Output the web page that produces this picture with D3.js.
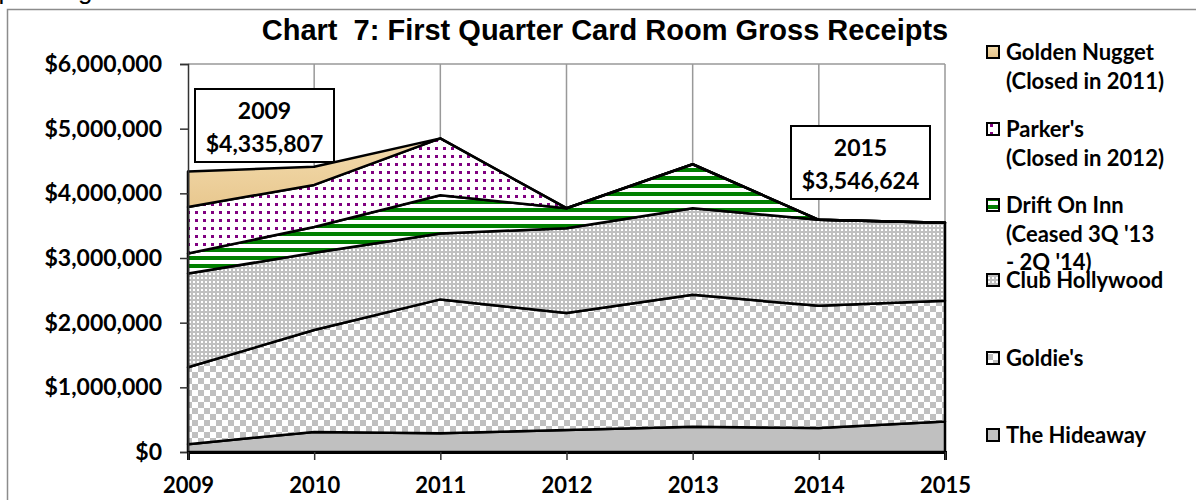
<!DOCTYPE html>
<html>
<head>
<meta charset="utf-8">
<script src="https://cdn.jsdelivr.net/npm/d3@7"></script>
<style>
  body { margin: 0; background: #fff; }
  svg { display: block; }
  .lbl { font-family: Lato, "Open Sans", sans-serif; font-weight: bold; fill: #000; }
</style>
</head>
<body>
<svg id="chart" width="1196" height="500"></svg>
<script>
// first quarter gross receipts per card room
var years = [2009, 2010, 2011, 2012, 2013, 2014, 2015];
var hideaway      = [120000, 310000, 290000, 340000, 390000, 370000, 470000];
var goldies       = [1190000, 1576000, 2070000, 1810000, 2040000, 1890000, 1870000];
var clubHollywood = [1450000, 1194000, 1020000, 1310000, 1340000, 1330000, 1206624];
var driftOnInn    = [310000, 400000, 590000, 310000, 680000, 0, 0];
var parkers       = [720000, 650000, 880000, 0, 0, 0, 0];
var goldenNugget  = [545807, 280000, 0, 0, 0, 0, 0];

var yTicks = [0, 1000000, 2000000, 3000000, 4000000, 5000000, 6000000];
var seriesKeys = ["hideaway", "goldies", "club", "drift", "parkers", "golden"];
var legendLines = {
  golden: ["Golden Nugget", "(Closed in 2011)"],
  parkers: ["Parker's", "(Closed in 2012)"],
  drift: ["Drift On Inn", "(Ceased 3Q '13", "- 2Q '14)"],
  club: ["Club Hollywood"],
  goldies: ["Goldie's"],
  hideaway: ["The Hideaway"]
};
var callouts = [
  { year: 2009, total: 4335807 },
  { year: 2015, total: 3546624 }
];

var rows = years.map(function(y, i) {
  return { year: y, hideaway: hideaway[i], goldies: goldies[i], club: clubHollywood[i],
           drift: driftOnInn[i], parkers: parkers[i], golden: goldenNugget[i] };
});

var svg = d3.select("#chart");
var defs = svg.append("defs");

// fills
var grad = defs.append("linearGradient").attr("id", "gold").attr("x1", 0).attr("y1", 0).attr("x2", 0).attr("y2", 1);
grad.append("stop").attr("offset", "0%").attr("stop-color", "#f3dcae");
grad.append("stop").attr("offset", "100%").attr("stop-color", "#e6c388");

var pDots = defs.append("pattern").attr("id", "dots").attr("patternUnits", "userSpaceOnUse").attr("width", 8).attr("height", 8);
pDots.append("rect").attr("width", 8).attr("height", 8).attr("fill", "#fff");
pDots.append("rect").attr("x", 3).attr("y", 3).attr("width", 3).attr("height", 3).attr("fill", "#800080");

var pStripe = defs.append("pattern").attr("id", "stripes").attr("patternUnits", "userSpaceOnUse").attr("width", 8).attr("height", 8);
pStripe.append("rect").attr("width", 8).attr("height", 8).attr("fill", "#fff");
pStripe.append("rect").attr("y", 0).attr("width", 8).attr("height", 4).attr("fill", "#008000");

var pFine = defs.append("pattern").attr("id", "fine").attr("patternUnits", "userSpaceOnUse").attr("width", 4).attr("height", 4);
pFine.append("rect").attr("width", 4).attr("height", 4).attr("fill", "#c0c0c0");
pFine.append("rect").attr("x", 1).attr("y", 1).attr("width", 2).attr("height", 2).attr("fill", "#fff");

var pCheck = defs.append("pattern").attr("id", "check").attr("patternUnits", "userSpaceOnUse").attr("width", 12).attr("height", 12);
pCheck.append("rect").attr("width", 12).attr("height", 12).attr("fill", "#fff");
pCheck.append("rect").attr("width", 6).attr("height", 6).attr("fill", "#c0c0c0");
pCheck.append("rect").attr("x", 6).attr("y", 6).attr("width", 6).attr("height", 6).attr("fill", "#c0c0c0");

var fills = {
  golden: "url(#gold)", parkers: "url(#dots)", drift: "url(#stripes)",
  club: "url(#fine)", goldies: "url(#check)", hideaway: "#c0c0c0"
};

// cut-off line of text above the chart frame
svg.append("text").attr("x", -16).attr("y", -1)
  .style("font-family", "Arial, 'Liberation Sans', sans-serif").style("font-size", "26px")
  .text("operating in Shoreline.");

// chart frame
svg.append("rect").attr("x", 7.5).attr("y", 9.5).attr("width", 1200).attr("height", 520)
  .attr("fill", "none").attr("stroke", "#8c8c8c").attr("stroke-width", 1.5);

var x = d3.scaleLinear().domain([2009, 2015]).range([188, 945]);
var y = d3.scaleLinear().domain([0, 6000000]).range([452, 64]);

// plot area border + vertical gridlines
svg.append("line").attr("x1", 188).attr("x2", 945).attr("y1", y(6000000)).attr("y2", y(6000000))
  .attr("stroke", "#999").attr("stroke-width", 1.5);
svg.selectAll(".vgrid").data(years.slice(1)).enter().append("line")
  .attr("x1", function(d) { return x(d); }).attr("x2", function(d) { return x(d); })
  .attr("y1", y(6000000)).attr("y2", y(0))
  .attr("stroke", "#999").attr("stroke-width", 1.5);

var stacked = d3.stack().keys(seriesKeys)(rows);

var area = d3.area()
  .x(function(d) { return x(d.data.year); })
  .y0(function(d) { return y(d[0]); })
  .y1(function(d) { return y(d[1]); });

svg.selectAll(".layer").data(stacked).enter().append("path")
  .attr("class", "layer")
  .attr("d", area)
  .attr("fill", function(d) { return fills[d.key]; })
  .attr("stroke", "#000").attr("stroke-width", 2.5).attr("stroke-linejoin", "round");

// axes
var yAxis = d3.axisLeft(y).tickValues(yTicks).tickSize(8).tickPadding(18).tickFormat(d3.format("$,.0f"));
var gy = svg.append("g").attr("transform", "translate(188,0)").call(yAxis);
gy.select(".domain").attr("stroke", "#333").attr("stroke-width", 1.5);
gy.selectAll(".tick line").attr("stroke", "#333").attr("stroke-width", 1.5);
gy.selectAll("text").attr("class", "lbl").style("font-size", "23px");

var xAxis = d3.axisBottom(x).tickValues(years).tickSize(8).tickPadding(17).tickFormat(d3.format("d"));
var gx = svg.append("g").attr("transform", "translate(0,452)").call(xAxis);
gx.select(".domain").attr("stroke", "#000").attr("stroke-width", 3);
gx.selectAll(".tick line").attr("stroke", "#333").attr("stroke-width", 1.5);
gx.selectAll("text").attr("class", "lbl").style("font-size", "22px");

// title
svg.append("text").attr("x", 605).attr("y", 40).attr("text-anchor", "middle")
  .style("font-family", "Arial, 'Liberation Sans', sans-serif").style("font-weight", "bold")
  .style("font-size", "29px").style("white-space", "pre")
  .text("Chart  7: First Quarter Card Room Gross Receipts");

// callout boxes
var boxPos = [{ bx: 195, by: 89 }, { bx: 791, by: 126 }];
var money = d3.format("$,.0f");
callouts.forEach(function(c, i) {
  var g = svg.append("g").attr("transform", "translate(" + boxPos[i].bx + "," + boxPos[i].by + ")");
  g.append("rect").attr("width", 139).attr("height", 73).attr("fill", "#fff")
    .attr("stroke", "#000").attr("stroke-width", 2);
  g.append("text").attr("class", "lbl").attr("x", 69.5).attr("y", 30).attr("text-anchor", "middle")
    .style("font-size", "23px").text(c.year);
  g.append("text").attr("class", "lbl").attr("x", 69.5).attr("y", 63).attr("text-anchor", "middle")
    .style("font-size", "23px").text(money(c.total));
});

// legend
var legendOrder = ["golden", "parkers", "drift", "club", "goldies", "hideaway"];
var legendY = [60, 137, 213, 288, 366, 443];
legendOrder.forEach(function(k, i) {
  var g = svg.append("g").attr("transform", "translate(987," + legendY[i] + ")");
  g.append("rect").attr("x", 0).attr("y", -14).attr("width", 12).attr("height", 12)
    .attr("fill", fills[k]).attr("stroke", "#000").attr("stroke-width", 2);
  legendLines[k].forEach(function(line, j) {
    g.append("text").attr("class", "lbl").attr("x", 19).attr("y", j * 28.5)
      .style("font-size", "22px").text(line);
  });
});
</script>
</body>
</html>
